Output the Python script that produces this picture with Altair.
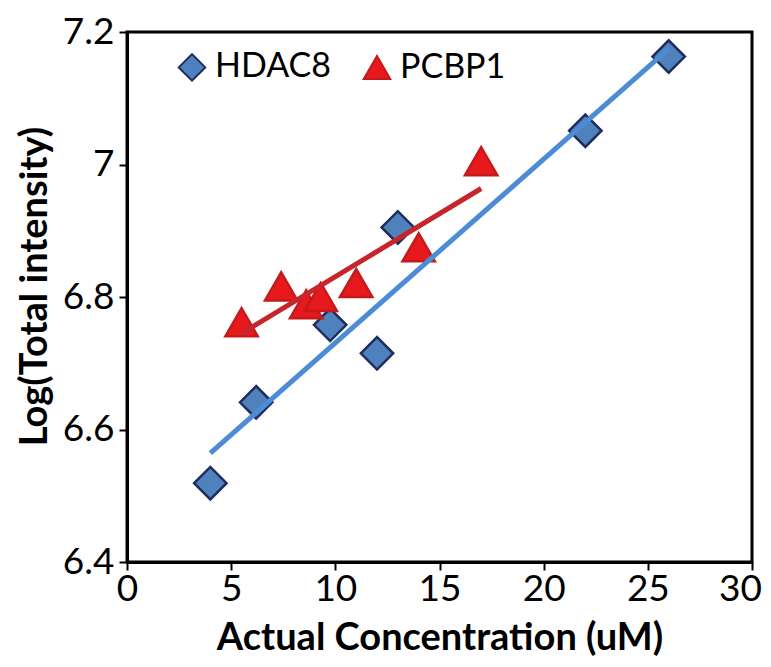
import altair as alt
import pandas as pd

# ---- data ----
series_names = ["HDAC8", "PCBP1"]
hdac8_x = [4, 6.2, 9.75, 12, 13, 22, 26]
hdac8_y = [6.519, 6.641, 6.758, 6.715, 6.905, 7.051, 7.163]
pcbp1_x = [5.5, 7.4, 8.6, 9.3, 11, 14, 17]
pcbp1_y = [6.762, 6.816, 6.789, 6.800, 6.821, 6.875, 7.005]
x_ticks = [0, 5, 10, 15, 20, 25, 30]
y_ticks = [6.4, 6.6, 6.8, 7.0, 7.2]

df = pd.DataFrame({
    "x": hdac8_x + pcbp1_x,
    "y": hdac8_y + pcbp1_y,
    "series": [series_names[0]] * len(hdac8_x) + [series_names[1]] * len(pcbp1_x),
})

FONT = "Lato"
fill_scale = alt.Scale(domain=series_names, range=["#4F81BD", "#E8191C"])
stroke_scale = alt.Scale(domain=series_names, range=["#1F2D5C", "#C41A1C"])
shape_scale = alt.Scale(domain=series_names, range=["diamond", "triangle-up"])
line_scale = alt.Scale(domain=series_names, range=["#4C8CD6", "#C6252B"])

legend = alt.Legend(
    title=None, orient="none", legendX=48, legendY=18, direction="horizontal",
    labelFont=FONT, labelFontSize=34, labelColor="black", symbolSize=700,
    symbolStrokeWidth=2, columnPadding=28, labelOffset=6, padding=0,
)

x_enc = alt.X("x:Q", scale=alt.Scale(domain=[0, 30], nice=False),
              axis=alt.Axis(values=x_ticks, title="Actual Concentration (uM)",
                            labelFlush=False,
                            labelOffset={"condition": {"test": "datum.value == 30", "value": -12},
                                         "value": 0}))
y_enc = alt.Y("y:Q", scale=alt.Scale(domain=[6.4, 7.2], nice=False, zero=False),
              axis=alt.Axis(values=y_ticks, format=".1~f", title="Log(Total intensity)",
                            labelFlush=False, titleY=254))

points = alt.Chart(df).mark_point(filled=True, opacity=1, size=1050, strokeWidth=2.5).encode(
    x=x_enc, y=y_enc,
    fill=alt.Fill("series:N", scale=fill_scale, legend=legend),
    stroke=alt.Stroke("series:N", scale=stroke_scale, legend=legend),
    shape=alt.Shape("series:N", scale=shape_scale, legend=legend),
)

lines = alt.Chart(df).transform_regression(
    "x", "y", groupby=["series"]
).mark_line(strokeWidth=5).encode(
    x="x:Q", y="y:Q",
    color=alt.Color("series:N", scale=line_scale, legend=None),
)

chart = alt.layer(points, lines).properties(
    width=625, height=530,
    autosize=alt.AutoSizeParams(type="none"),
    padding={"left": 119, "top": 24, "right": 11, "bottom": 100},
).configure_view(
    stroke="black", strokeWidth=3
).configure_axis(
    grid=False, domainColor="black", domainWidth=3, tickColor="black",
    tickWidth=2, tickSize=8, labelFont=FONT, labelFontSize=37, labelColor="black",
    titleFont=FONT, titleFontSize=38, titleFontWeight="bold", titleColor="black",
).configure_axisX(
    labelPadding=1, titlePadding=12,
).configure_axisY(
    labelPadding=5, titlePadding=8,
)

chart.save("out.html", embed_options={"renderer": "svg", "actions": False})
